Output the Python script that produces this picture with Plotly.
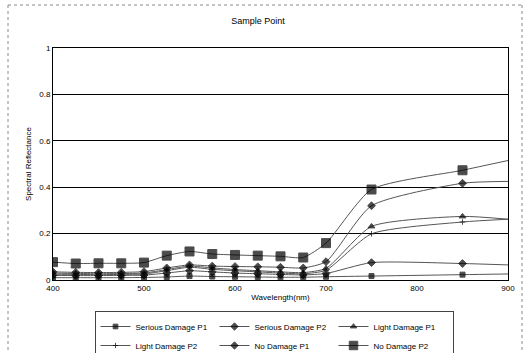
import plotly.graph_objects as go

wavelength = [400, 425, 450, 475, 500, 525, 550, 575, 600, 625, 650, 675, 700, 750, 850, 900]

serious_p1 = [0.010, 0.010, 0.010, 0.010, 0.011, 0.013, 0.017, 0.015, 0.014, 0.013, 0.012, 0.012, 0.014, 0.017, 0.023, 0.026]
serious_p2 = [0.020, 0.019, 0.019, 0.020, 0.021, 0.030, 0.040, 0.035, 0.030, 0.027, 0.024, 0.022, 0.028, 0.075, 0.071, 0.065]
light_p1 = [0.030, 0.028, 0.027, 0.028, 0.030, 0.045, 0.060, 0.052, 0.045, 0.040, 0.035, 0.032, 0.050, 0.231, 0.274, 0.262]
light_p2 = [0.025, 0.024, 0.023, 0.024, 0.026, 0.040, 0.055, 0.046, 0.040, 0.035, 0.030, 0.027, 0.042, 0.199, 0.250, 0.262]
nodamage_p1 = [0.035, 0.033, 0.032, 0.033, 0.036, 0.052, 0.065, 0.060, 0.058, 0.057, 0.055, 0.052, 0.079, 0.320, 0.417, 0.425]
nodamage_p2 = [0.077, 0.071, 0.072, 0.072, 0.075, 0.105, 0.123, 0.112, 0.108, 0.105, 0.102, 0.097, 0.159, 0.390, 0.473, 0.515]

series_names = ["Serious Damage P1", "Serious Damage P2", "Light Damage P1",
                "Light Damage P2", "No Damage P1", "No Damage P2"]
series_values = [serious_p1, serious_p2, light_p1, light_p2, nodamage_p1, nodamage_p2]

x_ticks = [400, 500, 600, 700, 800, 900]
y_ticks = [0, 0.2, 0.4, 0.6, 0.8, 1]
y_tick_labels = ["0", "0.2", "0.4", "0.6", "0.8", "1"]

styles = [
    dict(symbol="square", size=5),
    dict(symbol="diamond", size=6),
    dict(symbol="triangle-up", size=6),
    dict(symbol="cross-thin", size=4),
    dict(symbol="diamond", size=6),
    dict(symbol="square", size=9),
]

fig = go.Figure()
n = len(wavelength)
for name, vals, st in zip(series_names, series_values, styles):
    sizes = [st["size"]] * (n - 1) + [0]
    fig.add_trace(go.Scatter(
        x=wavelength, y=vals, name=name, mode="lines+markers",
        line=dict(color="#555555", width=1, shape="spline", smoothing=0.6),
        marker=dict(symbol=st["symbol"], size=sizes, color="black",
                    line=dict(width=1, color="black")),
    ))

W, H = 526, 353
L, R, T, B = 53, 18, 48, 73
pw, ph = W - L - R, H - T - B

def px_x(p):
    return (p - L) / pw

def px_y(p):
    return (H - B - p) / ph

fig.update_layout(
    width=W, height=H,
    margin=dict(l=L, r=R, t=T, b=B, autoexpand=False),
    paper_bgcolor="white", plot_bgcolor="white",
    font=dict(family="Liberation Sans, Arial, sans-serif", size=8, color="black"),
    title=dict(text="Sample Point", x=258 / W, xanchor="center", y=1 - 21 / H,
               yanchor="middle", font=dict(size=9)),
    showlegend=True,
    legend=dict(orientation="h", x=px_x(274), y=px_y(311), xanchor="center", yanchor="top",
                bordercolor="#444444", borderwidth=1, font=dict(size=8),
                itemwidth=30, entrywidth=74, entrywidthmode="pixels",
                traceorder="normal"),
    xaxis=dict(range=[400, 900], tickvals=x_ticks, showgrid=False, zeroline=False,
               showline=True, linecolor="black", linewidth=1, mirror=True,
               ticks="", tickfont=dict(size=8),
               title=dict(text="Wavelength(nm)", font=dict(size=8), standoff=2)),
    yaxis=dict(range=[0, 1], tickvals=y_ticks, ticktext=y_tick_labels,
               showgrid=True, gridcolor="black", gridwidth=1, zeroline=False,
               showline=True, linecolor="black", linewidth=1, mirror=True,
               ticks="", tickfont=dict(size=8),
               title=dict(text="Spectral Reflectance", font=dict(size=8), standoff=6)),
)

# outer chart frame
frame = dict(type="line", xref="paper", yref="paper",
             line=dict(color="#888888", width=1, dash="dot"))
fig.add_shape(**frame, x0=px_x(8), x1=px_x(523), y0=px_y(5), y1=px_y(5))
fig.add_shape(**frame, x0=px_x(8), x1=px_x(8), y0=px_y(5), y1=px_y(352))
fig.add_shape(**frame, x0=px_x(522), x1=px_x(522), y0=px_y(5), y1=px_y(352))

fig.write_html("out.html", config={"displayModeBar": False},
               post_script="document.body.style.margin='0px';document.body.style.overflow='hidden';")
